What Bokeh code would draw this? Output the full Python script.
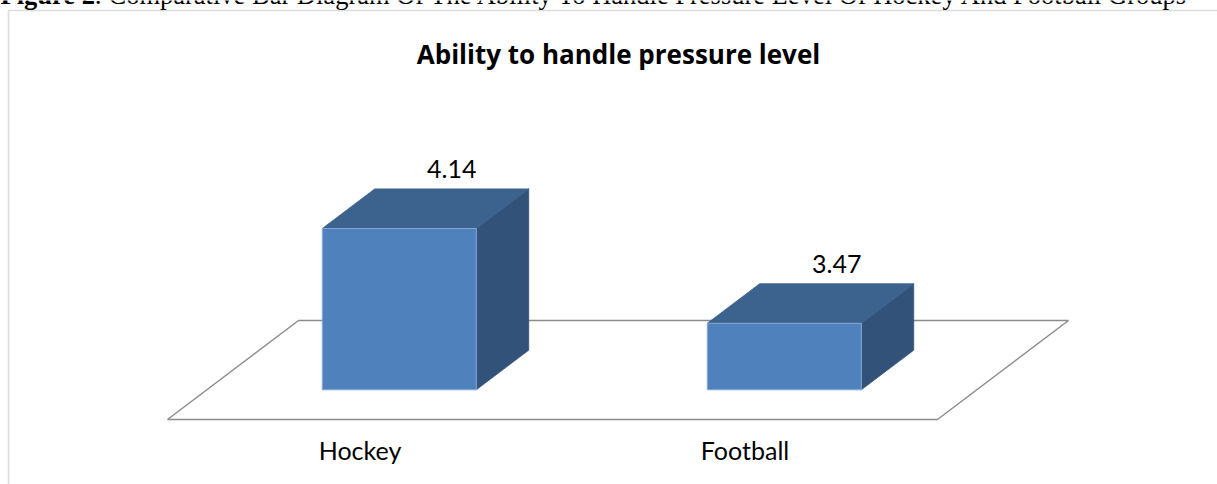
from bokeh.plotting import figure
from bokeh.models import Range1d, Label, BoxAnnotation
from bokeh.core.properties import value
from bokeh.embed import file_html
from bokeh.resources import INLINE

# ---- data ----
categories = ["Hockey", "Football"]
scores = [4.14, 3.47]
value_axis_min = 3.0
value_axis_max = 4.5

chart_title = "Ability to handle pressure level"
caption_bold = "Figure 2"
caption_rest = ": Comparative Bar Diagram Of The Ability To Handle Pressure Level Of Hockey And Football Groups"

# ---- 3-D projection settings (category units along x, value units along y) ----
DEPTH_DX = 0.3403      # shift in x for a full floor depth
DEPTH_DY = 0.6996      # shift in y for a full floor depth
BAR_W = 0.4            # bar width as a fraction of a category slot
BAR_D0, BAR_D1 = 0.3, 0.7   # bar depth span inside the floor

FRONT = "#4F81BD"
TOP = "#3C628E"
SIDE = "#335279"
FLOOR_LINE = "#8C8C8C"
BODY_FONT = "Lato"


def proj(x, v, d):
    """Project a point (category x, value v, depth d) onto the chart plane."""
    return x + d * DEPTH_DX, v + d * DEPTH_DY


W, H = 1217, 484
p = figure(width=W, height=H, output_backend="svg", toolbar_location=None,
           x_range=Range1d(-0.4338, 2.7273), y_range=Range1d(2.5406, 5.9611),
           min_border=0, outline_line_color=None)
p.axis.visible = False
p.xgrid.visible = False
p.ygrid.visible = False
p.background_fill_color = "white"
p.border_fill_color = "white"

# floor of the 3-D plot
n = len(categories)
floor = [proj(0, value_axis_min, 0), proj(n, value_axis_min, 0),
         proj(n, value_axis_min, 1), proj(0, value_axis_min, 1)]
p.patch([c[0] for c in floor], [c[1] for c in floor], fill_color="white",
        line_color=FLOOR_LINE, line_width=1.5)

# bars: front, top and right faces
front_xs, front_ys, top_xs, top_ys, side_xs, side_ys = [], [], [], [], [], []
lab_x, lab_y, lab_t = [], [], []
cat_x, cat_y = [], []
for i, (cat, v) in enumerate(zip(categories, scores)):
    cx = i + 0.5
    x0, x1 = cx - BAR_W / 2, cx + BAR_W / 2
    b = value_axis_min
    fr = [proj(x0, b, BAR_D0), proj(x1, b, BAR_D0), proj(x1, v, BAR_D0), proj(x0, v, BAR_D0)]
    tp = [proj(x0, v, BAR_D0), proj(x1, v, BAR_D0), proj(x1, v, BAR_D1), proj(x0, v, BAR_D1)]
    sd = [proj(x1, b, BAR_D0), proj(x1, b, BAR_D1), proj(x1, v, BAR_D1), proj(x1, v, BAR_D0)]
    for poly, xs, ys in ((fr, front_xs, front_ys), (tp, top_xs, top_ys), (sd, side_xs, side_ys)):
        xs.append([c[0] for c in poly])
        ys.append([c[1] for c in poly])
    lx, ly = proj(cx, v, BAR_D1)
    lab_x.append(lx)
    lab_y.append(ly)
    lab_t.append(f"{v:.2f}")
    fx, fy = proj(cx, value_axis_min, 0)
    cat_x.append(fx)
    cat_y.append(fy)

p.patches(side_xs, side_ys, fill_color=SIDE, line_color=SIDE, line_width=0.8)
p.patches(top_xs, top_ys, fill_color=TOP, line_color=TOP, line_width=0.8)
p.patches(front_xs, front_ys, fill_color=FRONT, line_color="#86A8D4", line_width=1)

# value labels above the bars
p.text(lab_x, lab_y, text=lab_t, text_font=value(BODY_FONT), text_font_size="25px",
       text_align="center", text_baseline="alphabetic", y_offset=-20, text_color="black")

# category labels under the floor
p.text(cat_x, cat_y, text=categories, text_font=value(BODY_FONT), text_font_size="25px",
       text_align="center", text_baseline="alphabetic", y_offset=31, text_color="black")

# chart title
p.add_layout(Label(x=618, y=H - 53, x_units="screen", y_units="screen", text=chart_title,
                   text_font="Open Sans", text_font_style="bold", text_font_size="26px",
                   text_align="center", text_baseline="alphabetic", text_color="black"))

# chart border (left and top edges visible)
p.add_layout(BoxAnnotation(left=8, right=W + 40, bottom=-40, top=H - 10,
                           left_units="screen", right_units="screen",
                           top_units="screen", bottom_units="screen",
                           fill_alpha=0, line_color="#8A8A8A", line_width=1.6))

# figure caption above the chart box
p.add_layout(Label(x=0, y=H + 6, x_units="screen", y_units="screen", text=caption_bold,
                   text_font="Liberation Serif", text_font_style="bold", text_font_size="26.5px",
                   text_baseline="alphabetic", text_color="black"))
p.add_layout(Label(x=94, y=H + 6, x_units="screen", y_units="screen", text=caption_rest,
                   text_font="Liberation Serif", text_font_size="26.5px",
                   text_baseline="alphabetic", text_color="black"))

open("out.html", "w").write(file_html(p, INLINE))
